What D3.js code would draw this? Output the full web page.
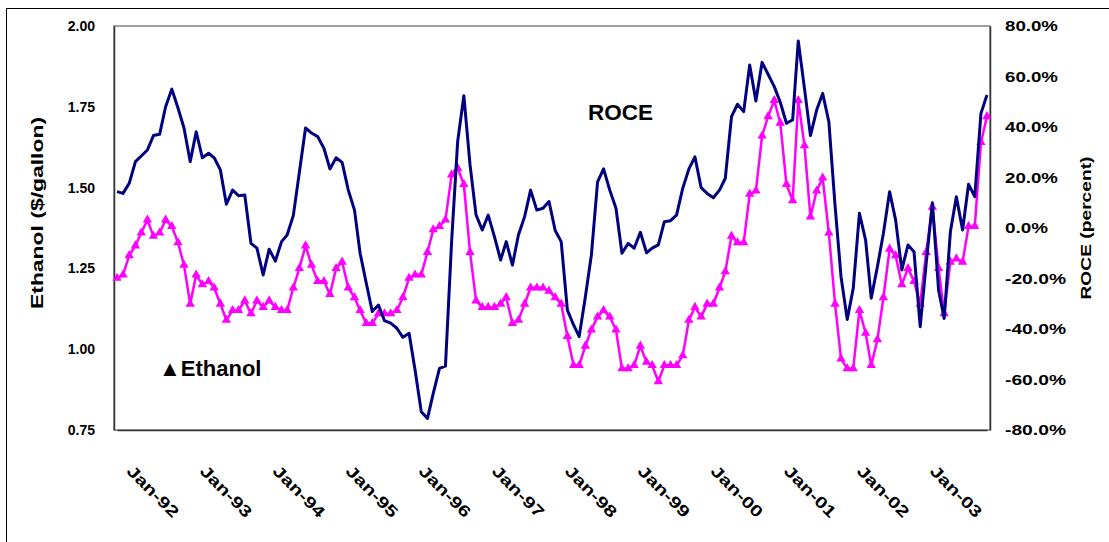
<!DOCTYPE html>
<html>
<head>
<meta charset="utf-8">
<script src="https://cdn.jsdelivr.net/npm/d3@7"></script>
<style>
  body { margin: 0; background: #fff; }
  text { font-family: "Liberation Sans", Arial, sans-serif; font-weight: bold; fill: #000; }
</style>
</head>
<body>
<div id="chart"></div>
<script>
// monthly series, first month Nov-91, last month Oct-03
const firstMonth = new Date(1991, 10, 1)

// Ethanol price ($/gallon), left axis
const ethanol = [
  1.22, 1.23, 1.29, 1.32, 1.36, 1.40, 1.35, 1.36, 1.40, 1.38, 1.33, 1.26,
  1.14, 1.23, 1.20, 1.21, 1.19, 1.14, 1.09, 1.12, 1.12, 1.15, 1.11, 1.15,
  1.13, 1.15, 1.13, 1.12, 1.12, 1.19, 1.25, 1.32, 1.26, 1.21, 1.21, 1.17,
  1.25, 1.27, 1.19, 1.16, 1.12, 1.08, 1.08, 1.11, 1.11, 1.11, 1.12, 1.16,
  1.22, 1.23, 1.23, 1.30, 1.37, 1.38, 1.40, 1.54, 1.56, 1.51, 1.30, 1.15,
  1.13, 1.13, 1.13, 1.14, 1.16, 1.08, 1.09, 1.14, 1.19, 1.19, 1.19, 1.18,
  1.16, 1.14, 1.04, 0.95, 0.95, 1.01, 1.06, 1.10, 1.12, 1.10, 1.06, 0.94,
  0.94, 0.95, 1.01, 0.96, 0.95, 0.90, 0.95, 0.95, 0.95, 0.98, 1.09, 1.13,
  1.10, 1.14, 1.14, 1.19, 1.24, 1.35, 1.33, 1.33, 1.48, 1.49, 1.66, 1.72,
  1.77, 1.70, 1.51, 1.46, 1.77, 1.63, 1.41, 1.49, 1.53, 1.36, 1.14, 0.97,
  0.94, 0.94, 1.12, 1.05, 0.95, 1.03, 1.16, 1.31, 1.29, 1.20, 1.25, 1.21,
  1.14, 1.30, 1.44, 1.25, 1.11, 1.27, 1.28, 1.27, 1.38, 1.38, 1.64, 1.72
]

// ROCE (percent), right axis
const roce = [
  14.4, 13.7, 17.7, 26.3, 28.5, 30.9, 36.6, 37.1, 48.0, 55.0, 47.5, 39.6,
  26.3, 38.1, 27.8, 29.6, 27.8, 23.0, 9.4, 15.0, 12.8, 13.1, -6.1, -8.0,
  -18.6, -8.4, -13.1, -5.4, -2.8, 5.0, 22.0, 39.6, 37.6, 36.2, 31.6, 23.4,
  27.8, 26.0, 15.0, 7.1, -10.0, -21.9, -33.1, -30.5, -36.7, -37.7, -39.7, -43.3,
  -41.7, -56.2, -72.8, -75.4, -65.5, -55.6, -54.7, -5.0, 34.2, 52.4, 25.0, 5.2,
  -0.8, 5.1, -3.4, -12.7, -5.4, -14.7, -2.8, 4.5, 15.0, 7.1, 7.8, 10.5,
  -1.0, -5.4, -32.5, -38.4, -43.0, -27.2, -10.7, 18.3, 23.4, 15.0, 7.8, -10.0,
  -6.1, -8.0, -1.7, -9.8, -8.0, -6.7, 2.5, 2.9, 5.1, 15.7, 23.4, 28.2,
  16.0, 13.7, 12.0, 15.0, 19.7, 44.1, 49.0, 46.1, 64.6, 50.3, 65.6, 60.9,
  56.0, 49.8, 41.5, 42.8, 74.1, 55.3, 36.6, 46.7, 53.3, 42.1, 9.0, -19.3,
  -36.2, -23.9, 5.8, -4.8, -27.8, -15.3, -2.1, 14.4, 3.2, -16.6, -6.7, -9.4,
  -39.1, -14.0, 10.0, -24.6, -35.8, -1.5, 12.4, -0.8, 17.3, 12.4, 45.4, 52.7
]

const leftTicks = [0.75, 1.00, 1.25, 1.50, 1.75, 2.00]
const rightTicks = [-80, -60, -40, -20, 0, 20, 40, 60, 80]

const width = 1109
const height = 542
const plot = { left: 114, right: 990, top: 26, bottom: 430 }
const halfCat = (plot.right - plot.left) / ethanol.length / 2

const months = ethanol.map((d, i) => d3.timeMonth.offset(firstMonth, i))

let x = d3.scaleTime()
  .domain([months[0], months[months.length - 1]])
  .range([plot.left + halfCat, plot.right - halfCat])

let yLeft = d3.scaleLinear().domain([0.75, 2.0]).range([plot.bottom, plot.top])
let yRight = d3.scaleLinear().domain([-80, 80]).range([plot.bottom, plot.top])

let svg = d3.select("#chart")
  .append("svg")
  .attr("width", width)
  .attr("height", height)

// outer chart frame
svg.append("rect")
  .attr("x", 6.5).attr("y", 8.5)
  .attr("width", 1200).attr("height", 600)
  .attr("fill", "none")
  .attr("stroke", "#000")
  .attr("stroke-width", 1)

// plot area border
svg.append("rect")
  .attr("x", plot.left).attr("y", plot.top)
  .attr("width", plot.right - plot.left)
  .attr("height", plot.bottom - plot.top)
  .attr("fill", "#fff")
  .attr("stroke", "#808080")
  .attr("stroke-width", 1.5)

// axes (no tick marks, bold labels)
const leftAxis = d3.axisLeft(yLeft).tickValues(leftTicks).tickSize(0).tickPadding(19)
  .tickFormat(d3.format(".2f"))
const rightAxis = d3.axisRight(yRight).tickValues(rightTicks).tickSize(0).tickPadding(15)
  .tickFormat(d => d.toFixed(1) + "%")
const bottomAxis = d3.axisBottom(x).ticks(d3.timeYear.every(1)).tickSize(0)
  .tickFormat(d3.timeFormat("%b-%y"))

let gl = svg.append("g")
  .attr("transform", "translate(" + plot.left + ",0)")
  .call(leftAxis)
gl.select(".domain").attr("stroke", "#333").attr("stroke-width", 1.5)
gl.selectAll("text").style("font-size", "14px").attr("fill", "#000")

let gr = svg.append("g")
  .attr("transform", "translate(" + plot.right + ",0)")
  .call(rightAxis)
gr.select(".domain").attr("stroke", "#333").attr("stroke-width", 1.5)
gr.selectAll("text").style("font-size", "15px").attr("fill", "#000")
  .attr("textLength", d => (d < 0 ? 61 : 53) - (Math.abs(d) < 10 ? 10 : 0))
  .attr("lengthAdjust", "spacingAndGlyphs")

let gb = svg.append("g")
  .attr("transform", "translate(0," + plot.bottom + ")")
  .call(bottomAxis)
gb.select(".domain").attr("stroke", "#333").attr("stroke-width", 1.5)
gb.selectAll(".tick text")
  .attr("y", 0).attr("dy", 0)
  .attr("text-anchor", "start")
  .attr("transform", "translate(-4,42) rotate(45)")
  .style("font-size", "16px")
  .attr("fill", "#000")
  .attr("textLength", 66)
  .attr("lengthAdjust", "spacingAndGlyphs")

// axis titles
svg.append("text")
  .attr("transform", "translate(43,213) rotate(-90)")
  .attr("text-anchor", "middle")
  .style("font-size", "16px")
  .attr("textLength", 192)
  .attr("lengthAdjust", "spacingAndGlyphs")
  .text("Ethanol ($/gallon)")

svg.append("text")
  .attr("transform", "translate(1091,228) rotate(-90)")
  .attr("text-anchor", "middle")
  .style("font-size", "15px")
  .attr("textLength", 143)
  .attr("lengthAdjust", "spacingAndGlyphs")
  .text("ROCE (percent)")

// Ethanol line + triangle markers
const ethLine = d3.line()
  .x((d, i) => x(months[i]))
  .y(d => yLeft(d))

svg.append("path")
  .datum(ethanol)
  .attr("d", ethLine)
  .attr("fill", "none")
  .attr("stroke", "#FF00FF")
  .attr("stroke-width", 2.5)
  .attr("stroke-linejoin", "round")

svg.append("g")
  .selectAll("path")
  .data(ethanol)
  .enter().append("path")
  .attr("d", d3.symbol().type(d3.symbolTriangle).size(38))
  .attr("transform", (d, i) => "translate(" + x(months[i]) + "," + yLeft(d) + ")")
  .attr("fill", "#FF00FF")

// ROCE line (secondary axis, on top)
const roceLine = d3.line()
  .x((d, i) => x(months[i]))
  .y(d => yRight(d))

svg.append("path")
  .datum(roce)
  .attr("d", roceLine)
  .attr("fill", "none")
  .attr("stroke", "#000080")
  .attr("stroke-width", 3)
  .attr("stroke-linejoin", "round")

// annotations
svg.append("text")
  .attr("x", 588).attr("y", 120)
  .style("font-size", "22.5px")
  .text("ROCE")

svg.append("text")
  .attr("x", 159).attr("y", 376)
  .style("font-size", "22px")
  .text("\u25B2Ethanol")
</script>
</body>
</html>
